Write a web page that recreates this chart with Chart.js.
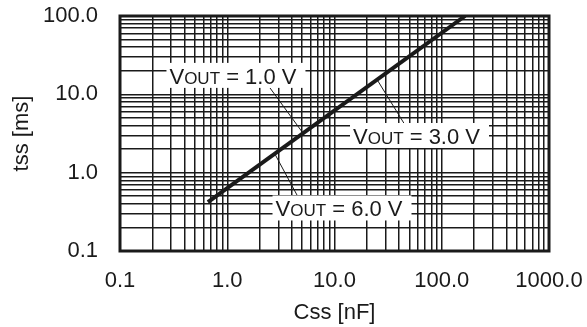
<!DOCTYPE html>
<html>
<head>
<meta charset="utf-8">
<script src="https://cdn.jsdelivr.net/npm/chart.js@4"></script>
<style>
  html, body { margin: 0; padding: 0; background: #fff; }
  #wrap { width: 587px; height: 327px; }
</style>
</head>
<body>
<div id="wrap"><canvas id="chart-tss"></canvas></div>
<script>
// curve: tss vs Css (log-log)
var cssValues = [0.66, 165];
var tssValues = [0.42, 100];

// tick labels
var xTicks = [0.1, 1, 10, 100, 1000];
var xTickLabels = ['0.1', '1.0', '10.0', '100.0', '1000.0'];
var yTicks = [0.1, 1, 10, 100];
var yTickLabels = ['0.1', '1.0', '10.0', '100.0'];

// annotations (data coords)
var noteVolts = ['1.0', '3.0', '6.0'];
var noteX = [1.18, 60.7, 11.5];
var noteY = [17.2, 2.94, 0.349];
var leaderFrom = [[5.0, 3.3], [25.4, 14.8], [2.8, 1.7]];
var leaderTo = [[2.5, 12.1], [45.4, 4.07], [4.57, 0.49]];

var ink = '#1a1a1a';
var font = "'Liberation Sans', Arial, sans-serif";

function gridValues(min, max) {
    var vals = [];
    for (var e = Math.round(Math.log10(min)); e < Math.round(Math.log10(max)); e++) {
        for (var m = 1; m <= 9; m++) vals.push(+(m * Math.pow(10, e)).toPrecision(3));
    }
    vals.push(max);
    return vals;
}

function labelFor(ticks, labels) {
    return function (v) {
        for (var i = 0; i < ticks.length; i++) {
            if (Math.abs(v - ticks[i]) < ticks[i] * 1e-6) return labels[i];
        }
        return '';
    };
}

var frame = {
    id: 'frame',
    beforeDatasetsDraw: function (chart) {
        var a = chart.chartArea, ctx = chart.ctx;
        ctx.save();
        ctx.strokeStyle = ink;
        ctx.lineWidth = 3;
        ctx.strokeRect(a.left, a.top, a.right - a.left, a.bottom - a.top);
        ctx.restore();
    }
};

var notes = {
    id: 'notes',
    afterDatasetsDraw: function (chart) {
        var ctx = chart.ctx, sx = chart.scales.x, sy = chart.scales.y;
        ctx.save();
        ctx.strokeStyle = ink;
        ctx.lineWidth = 1;
        for (var i = 0; i < noteVolts.length; i++) {
            ctx.beginPath();
            ctx.moveTo(sx.getPixelForValue(leaderFrom[i][0]), sy.getPixelForValue(leaderFrom[i][1]));
            ctx.lineTo(sx.getPixelForValue(leaderTo[i][0]), sy.getPixelForValue(leaderTo[i][1]));
            ctx.stroke();
        }
        var big = '22px ' + font, small = '17px ' + font;
        for (var i = 0; i < noteVolts.length; i++) {
            var rest = ' = ' + noteVolts[i] + ' V';
            ctx.font = big;
            var w1 = ctx.measureText('V').width, w3 = ctx.measureText(rest).width;
            ctx.font = small;
            var w2 = ctx.measureText('OUT').width;
            var w = w1 + w2 + w3;
            var cx = sx.getPixelForValue(noteX[i]), cy = sy.getPixelForValue(noteY[i]);
            var x0 = cx - w / 2 - 2;
            ctx.fillStyle = '#fff';
            ctx.fillRect(x0 - 3, cy - 13, w + 12, 25);
            ctx.fillStyle = ink;
            ctx.textBaseline = 'alphabetic';
            var base = cy + 8;
            ctx.font = big;
            ctx.fillText('V', x0, base);
            ctx.font = small;
            ctx.fillText('OUT', x0 + w1, base);
            ctx.font = big;
            ctx.fillText(rest, x0 + w1 + w2, base);
        }
        ctx.restore();
    }
};

var gridOpts = { color: ink, lineWidth: 1.5, drawTicks: false };

var chartTss = new Chart(document.getElementById('chart-tss'), {
    type: 'line',
    data: {
        datasets: [{
            data: cssValues.map(function (c, i) { return { x: c, y: tssValues[i] }; }),
            borderColor: ink,
            borderWidth: 4,
            pointRadius: 0,
            fill: false
        }]
    },
    options: {
        responsive: true,
        maintainAspectRatio: false,
        animation: false,
        layout: { padding: { left: 0, top: 16, right: 38, bottom: 0 } },
        plugins: { legend: { display: false }, tooltip: { enabled: false } },
        scales: {
            x: {
                type: 'logarithmic',
                min: 0.1,
                max: 1000,
                grid: gridOpts,
                border: { display: false },
                afterBuildTicks: function (s) {
                    s.ticks = gridValues(0.1, 1000).map(function (v) { return { value: v }; });
                },
                afterFit: function (s) {
                    s.height = 76;
                    s.paddingLeft = 0;
                    s.paddingRight = 0;
                },
                ticks: {
                    autoSkip: false,
                    maxRotation: 0,
                    padding: 17,
                    color: ink,
                    font: { family: font, size: 22 },
                    callback: labelFor(xTicks, xTickLabels)
                },
                title: {
                    display: true,
                    text: 'Css [nF]',
                    color: ink,
                    font: { family: font, size: 22 },
                    padding: { top: 0, bottom: 1 }
                }
            },
            y: {
                type: 'logarithmic',
                min: 0.1,
                max: 100,
                grid: gridOpts,
                border: { display: false },
                afterBuildTicks: function (s) {
                    s.ticks = gridValues(0.1, 100).map(function (v) { return { value: v }; });
                },
                afterFit: function (s) {
                    s.width = 120;
                    s.paddingTop = 0;
                    s.paddingBottom = 0;
                },
                ticks: {
                    autoSkip: false,
                    padding: 22,
                    color: ink,
                    font: { family: font, size: 22 },
                    callback: labelFor(yTicks, yTickLabels)
                },
                title: {
                    display: true,
                    text: 'tss [ms]',
                    color: ink,
                    font: { family: font, size: 22 },
                    padding: { top: 9, bottom: 0 }
                }
            }
        }
    },
    plugins: [frame, notes]
});
</script>
</body>
</html>
